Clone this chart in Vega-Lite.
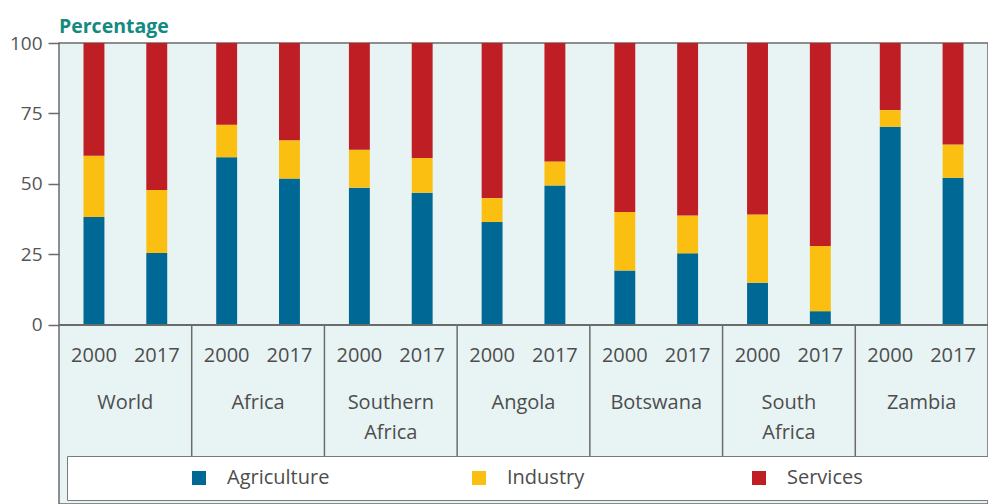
{
  "$schema": "https://vega.github.io/schema/vega-lite/v6.json",
  "autosize": "none",
  "padding": {"left": 59, "top": 43, "right": 0, "bottom": 0},
  "width": 929,
  "height": 461,
  "background": "white",
  "config": {
    "font": "Open Sans",
    "view": {"stroke": "#6b6b6b", "strokeWidth": 1.5, "fill": "#e8f4f4"}
  },
  "title": {
    "text": "Percentage",
    "anchor": "start",
    "frame": "group",
    "fontSize": 19.5,
    "fontWeight": "bold",
    "color": "#138a80",
    "offset": -3,
    "dx": 0
  },
  "datasets": {
    "bars": [
      {"region": "World", "year": "2000", "sector": "Agriculture", "value": 38.3},
      {"region": "World", "year": "2000", "sector": "Industry", "value": 21.7},
      {"region": "World", "year": "2000", "sector": "Services", "value": 40.0},
      {"region": "World", "year": "2017", "sector": "Agriculture", "value": 25.5},
      {"region": "World", "year": "2017", "sector": "Industry", "value": 22.4},
      {"region": "World", "year": "2017", "sector": "Services", "value": 52.1},
      {"region": "Africa", "year": "2000", "sector": "Agriculture", "value": 59.5},
      {"region": "Africa", "year": "2000", "sector": "Industry", "value": 11.5},
      {"region": "Africa", "year": "2000", "sector": "Services", "value": 29.0},
      {"region": "Africa", "year": "2017", "sector": "Agriculture", "value": 51.9},
      {"region": "Africa", "year": "2017", "sector": "Industry", "value": 13.6},
      {"region": "Africa", "year": "2017", "sector": "Services", "value": 34.5},
      {"region": "Southern Africa", "year": "2000", "sector": "Agriculture", "value": 48.7},
      {"region": "Southern Africa", "year": "2000", "sector": "Industry", "value": 13.4},
      {"region": "Southern Africa", "year": "2000", "sector": "Services", "value": 37.9},
      {"region": "Southern Africa", "year": "2017", "sector": "Agriculture", "value": 46.9},
      {"region": "Southern Africa", "year": "2017", "sector": "Industry", "value": 12.3},
      {"region": "Southern Africa", "year": "2017", "sector": "Services", "value": 40.8},
      {"region": "Angola", "year": "2000", "sector": "Agriculture", "value": 36.5},
      {"region": "Angola", "year": "2000", "sector": "Industry", "value": 8.5},
      {"region": "Angola", "year": "2000", "sector": "Services", "value": 55.0},
      {"region": "Angola", "year": "2017", "sector": "Agriculture", "value": 49.5},
      {"region": "Angola", "year": "2017", "sector": "Industry", "value": 8.5},
      {"region": "Angola", "year": "2017", "sector": "Services", "value": 42.0},
      {"region": "Botswana", "year": "2000", "sector": "Agriculture", "value": 19.3},
      {"region": "Botswana", "year": "2000", "sector": "Industry", "value": 20.8},
      {"region": "Botswana", "year": "2000", "sector": "Services", "value": 59.9},
      {"region": "Botswana", "year": "2017", "sector": "Agriculture", "value": 25.4},
      {"region": "Botswana", "year": "2017", "sector": "Industry", "value": 13.4},
      {"region": "Botswana", "year": "2017", "sector": "Services", "value": 61.2},
      {"region": "South Africa", "year": "2000", "sector": "Agriculture", "value": 15.0},
      {"region": "South Africa", "year": "2000", "sector": "Industry", "value": 24.2},
      {"region": "South Africa", "year": "2000", "sector": "Services", "value": 60.8},
      {"region": "South Africa", "year": "2017", "sector": "Agriculture", "value": 4.9},
      {"region": "South Africa", "year": "2017", "sector": "Industry", "value": 23.1},
      {"region": "South Africa", "year": "2017", "sector": "Services", "value": 72.0},
      {"region": "Zambia", "year": "2000", "sector": "Agriculture", "value": 70.3},
      {"region": "Zambia", "year": "2000", "sector": "Industry", "value": 5.9},
      {"region": "Zambia", "year": "2000", "sector": "Services", "value": 23.8},
      {"region": "Zambia", "year": "2017", "sector": "Agriculture", "value": 52.2},
      {"region": "Zambia", "year": "2017", "sector": "Industry", "value": 11.8},
      {"region": "Zambia", "year": "2017", "sector": "Services", "value": 36.0}
    ],
    "groups": [
      {"region": "World", "label": "World"},
      {"region": "Africa", "label": "Africa"},
      {"region": "Southern Africa", "label": "Southern\nAfrica"},
      {"region": "Angola", "label": "Angola"},
      {"region": "Botswana", "label": "Botswana"},
      {"region": "South Africa", "label": "South\nAfrica"},
      {"region": "Zambia", "label": "Zambia"}
    ]
  },
  "layer": [
    {
      "data": {"name": "bars"},
      "mark": {"type": "bar"},
      "encoding": {
        "x": {
          "field": "region",
          "type": "nominal",
          "scale": {
            "domain": ["World", "Africa", "Southern Africa", "Angola", "Botswana", "South Africa", "Zambia"],
            "paddingInner": 0,
            "paddingOuter": 0
          },
          "axis": null
        },
        "xOffset": {
          "field": "year",
          "type": "nominal",
          "scale": {"domain": ["2000", "2017"], "paddingInner": 0.667, "paddingOuter": 0.39}
        },
        "y": {
          "field": "value",
          "type": "quantitative",
          "stack": "zero",
          "scale": {"domain": [-63.5, 100], "nice": false, "zero": false},
          "axis": {
            "values": [0, 25, 50, 75, 100],
            "title": null,
            "grid": false,
            "domain": false,
            "tickSize": 11,
            "tickColor": "#6b6b6b",
            "tickWidth": 1.5,
            "labelPadding": 6,
            "labelFontSize": 19,
            "labelColor": "#555555"
          }
        },
        "order": {"field": "sector", "type": "nominal", "sort": "ascending"},
        "color": {
          "field": "sector",
          "type": "nominal",
          "scale": {
            "domain": ["Agriculture", "Industry", "Services"],
            "range": ["#006894", "#fbbf12", "#be1e24"]
          },
          "legend": {
            "orient": "none",
            "legendX": 8,
            "legendY": 413,
            "direction": "horizontal",
            "columns": 3,
            "gridAlign": "all",
            "title": " ",
            "titleOrient": "right",
            "titlePadding": 140,
            "titleFontSize": 20,
            "symbolType": "square",
            "symbolSize": 196,
            "symbolStrokeWidth": 0,
            "symbolOffset": 110,
            "labelFontSize": 20,
            "labelOffset": 18,
            "labelColor": "#4d4d4d",
            "columnPadding": 29,
            "padding": 12,
            "fillColor": "white",
            "strokeColor": "#7a7a7a"
          }
        }
      }
    },
    {
      "data": {"name": "bars"},
      "mark": {"type": "rule", "color": "#6b6b6b", "strokeWidth": 2},
      "encoding": {"y": {"datum": 0}}
    },
    {
      "data": {"name": "groups"},
      "transform": [{"filter": "datum.region !== 'World'"}],
      "mark": {"type": "rule", "color": "#6b6b6b", "strokeWidth": 1.5},
      "encoding": {
        "x": {"field": "region", "type": "nominal", "bandPosition": 0},
        "y": {"datum": 0},
        "y2": {"datum": -46.5}
      }
    },
    {
      "data": {"name": "bars"},
      "transform": [{"filter": "datum.sector === 'Agriculture'"}],
      "mark": {"type": "text", "fontSize": 20, "color": "#4d4d4d", "baseline": "middle"},
      "encoding": {
        "x": {"field": "region", "type": "nominal"},
        "xOffset": {"field": "year", "type": "nominal"},
        "y": {"datum": -11},
        "text": {"field": "year", "type": "nominal"}
      }
    },
    {
      "data": {"name": "groups"},
      "mark": {"type": "text", "fontSize": 20, "color": "#4d4d4d", "baseline": "alphabetic", "lineBreak": "\n", "lineHeight": 30},
      "encoding": {
        "x": {"field": "region", "type": "nominal"},
        "y": {"datum": -29.7},
        "text": {"field": "label", "type": "nominal"}
      }
    }
  ]
}
